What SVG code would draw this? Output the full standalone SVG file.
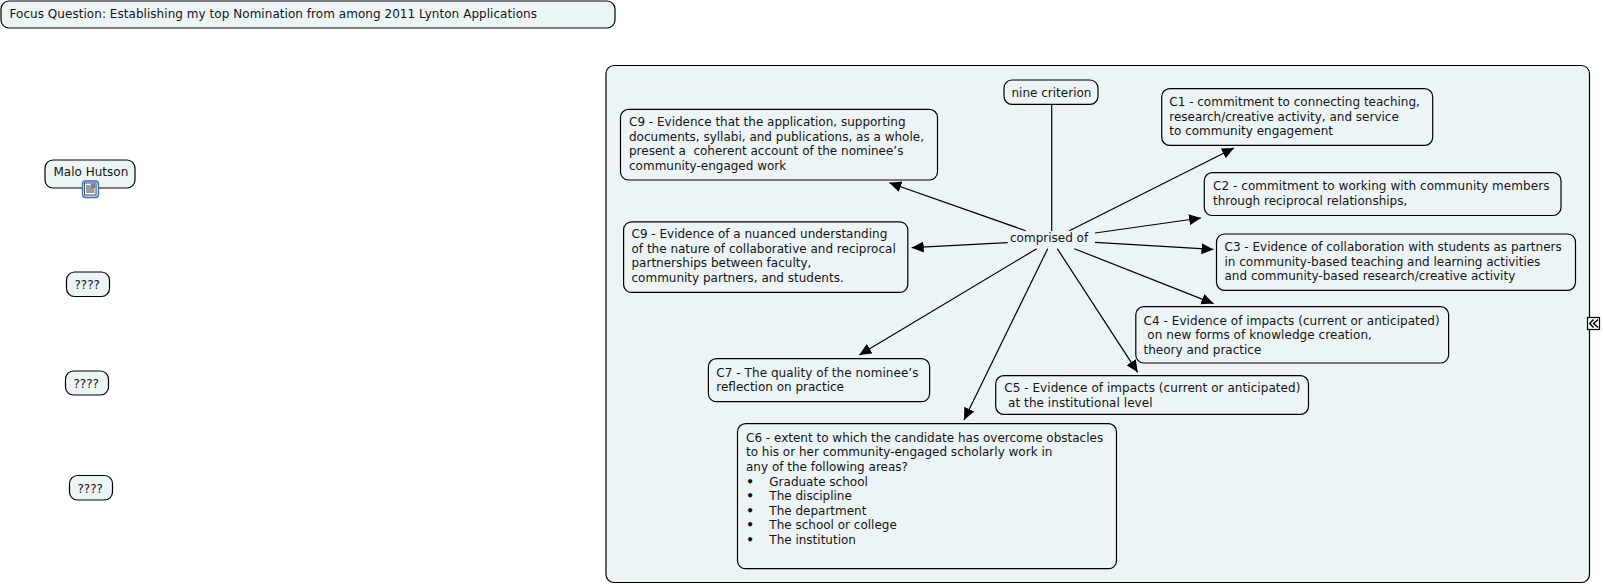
<svg xmlns="http://www.w3.org/2000/svg" width="1603" height="584" viewBox="0 0 1603 584">
<style>
text{font-family:"DejaVu Sans","Liberation Sans",sans-serif;font-size:12px;fill:#141414;white-space:pre}
.w{letter-spacing:.06px}
.b{font-weight:bold}
.n{fill:#ecf4f6;stroke:#000;stroke-width:1.2}
.c{stroke:#000;stroke-width:1.2;fill:none;marker-end:url(#a)}
</style>
<defs><marker id="a" markerUnits="userSpaceOnUse" markerWidth="14" markerHeight="12" refX="12" refY="5.5" orient="auto"><path d="M0 0L12 5.5L0 11Z" fill="#000"/></marker></defs>
<rect width="1603" height="584" fill="#fff"/>
<g id="focus"><rect class="n" x="1" y="1" width="614" height="27" rx="8"/><text x="9.500" y="18" style="letter-spacing:.045px">Focus Question: Establishing my top Nomination from among 2011 Lynton Applications</text></g>
<g id="malo"><rect class="n" x="45" y="160" width="90" height="28" rx="8"/><text x="53.500" y="176">Malo Hutson</text>
<rect x="82.500" y="181" width="16" height="16.500" rx="3" fill="#dbe7f5" stroke="#3a70b8" stroke-width="1.300"/><rect x="84.500" y="183" width="11.500" height="12" fill="#fff" stroke="#222" stroke-width=".8"/><path d="M86 186h4M86 188h8.500M86 190h8.500M86 192h8.500" stroke="#222" stroke-width=".9"/><rect x="90.500" y="183.500" width="5" height="4" fill="#5a8fc8"/><path d="M91 187.500l2-2 2 2z" fill="#c04a3a"/></g>
<g id="q1"><rect class="n" x="66.500" y="272" width="43" height="24.500" rx="8"/><text x="74.500" y="289">????</text></g>
<g id="q2"><rect class="n" x="65.500" y="371" width="43" height="24" rx="8"/><text x="73.500" y="387.500">????</text></g>
<g id="q3"><rect class="n" x="69.500" y="475.500" width="43" height="24.500" rx="8"/><text x="77.500" y="492.500">????</text></g>
<g id="panel"><rect class="n" x="606" y="65.500" width="983.500" height="517" rx="8"/></g>
<g id="connectors">
<path d="M1051.700 104.300V231" stroke="#000" stroke-width="1.200"/>
<path class="c" d="M1025.700 230.700L889.300 182.700"/>
<path class="c" d="M1007.700 242.700L911.700 247.700"/>
<path class="c" d="M1036.700 248.700L859.300 355"/>
<path class="c" d="M1047.700 248.700L964 420"/>
<path class="c" d="M1057.300 248.700L1137.700 372.300"/>
<path class="c" d="M1074.300 248.700L1213.500 303.600"/>
<path class="c" d="M1095 242.300L1213.500 249.400"/>
<path class="c" d="M1095 233L1201 218"/>
<path class="c" d="M1069.300 230.700L1234 148"/>
</g>
<g id="comprised"><text x="1010" y="242">comprised of</text></g>
<g id="nine"><rect class="n" x="1004" y="80" width="94" height="24.300" rx="8"/><text x="1011.500" y="97">nine criterion</text></g>
<g id="c1"><rect class="n" x="1161.700" y="88.700" width="271" height="56.600" rx="8"/><text x="1169.300" y="106.200">C1 - commitment to connecting teaching,</text><text x="1169.300" y="120.700">research/creative activity, and service</text><text x="1169.300" y="135.200">to community engagement</text></g>
<g id="c2"><rect class="n" x="1204.300" y="172.700" width="356.700" height="42.800" rx="8"/><text class="w" x="1213" y="190">C2 - commitment to working with community members</text><text x="1213" y="204.500">through reciprocal relationships,</text></g>
<g id="c3"><rect class="n" x="1216.500" y="234" width="359" height="56.300" rx="8"/><text x="1224.500" y="251">C3 - Evidence of collaboration with students as partners</text><text x="1224.500" y="265.700">in community-based teaching and learning activities</text><text x="1224.500" y="280.200">and community-based research/creative activity</text></g>
<g id="c4"><rect class="n" x="1135.800" y="306.700" width="312.800" height="56.300" rx="8"/><text class="w" x="1143.500" y="324.500">C4 - Evidence of impacts (current or anticipated)</text><text class="w" x="1143.500" y="339"> on new forms of knowledge creation,</text><text x="1143.500" y="353.500">theory and practice</text></g>
<g id="c5"><rect class="n" x="995.700" y="375.700" width="312.800" height="38.600" rx="8"/><text class="w" x="1004.200" y="392.400">C5 - Evidence of impacts (current or anticipated)</text><text class="w" x="1004.200" y="406.800"> at the institutional level</text></g>
<g id="c6"><rect class="n" x="737.500" y="423.700" width="379" height="145" rx="8"/><text x="746" y="441.500">C6 - extent to which the candidate has overcome obstacles</text><text x="746" y="456.200">to his or her community-engaged scholarly work in</text><text x="746" y="470.800">any of the following areas?</text><text class="b" x="746.300" y="485.500">•</text><text x="769.300" y="485.500">Graduate school</text><text class="b" x="746.300" y="500">•</text><text x="769.300" y="500">The discipline</text><text class="b" x="746.300" y="514.700">•</text><text x="769.300" y="514.700">The department</text><text class="b" x="746.300" y="529.300">•</text><text x="769.300" y="529.300">The school or college</text><text class="b" x="746.300" y="543.900">•</text><text x="769.300" y="543.900">The institution</text></g>
<g id="c7"><rect class="n" x="708.400" y="358.700" width="221.200" height="43" rx="8"/><text class="w" x="716.300" y="376.700">C7 - The quality of the nominee’s</text><text x="716.300" y="391.300">reflection on practice</text></g>
<g id="c9b"><rect class="n" x="623.600" y="221.800" width="284.200" height="70.600" rx="8"/><text x="631.500" y="238.200">C9 - Evidence of a nuanced understanding</text><text x="631.500" y="252.700">of the nature of collaborative and reciprocal</text><text x="631.500" y="267.200">partnerships between faculty,</text><text x="631.500" y="281.800">community partners, and students.</text></g>
<g id="c9a"><rect class="n" x="620.500" y="109.400" width="317" height="70.600" rx="8"/><text x="629" y="126">C9 - Evidence that the application, supporting</text><text x="629" y="140.500">documents, syllabi, and publications, as a whole,</text><text x="629" y="155.200">present a  coherent account of the nominee’s</text><text x="629" y="169.700">community-engaged work</text></g>
<g id="collapse"><rect x="1587.500" y="317.500" width="12" height="12" fill="#fff" stroke="#000" stroke-width="1.200"/><path d="M1593.500 319.500L1589.700 323.500L1593.500 327.500M1598 319.500L1593.700 323.500L1598 327.500" fill="none" stroke="#000" stroke-width="1.500"/></g>
</svg>
